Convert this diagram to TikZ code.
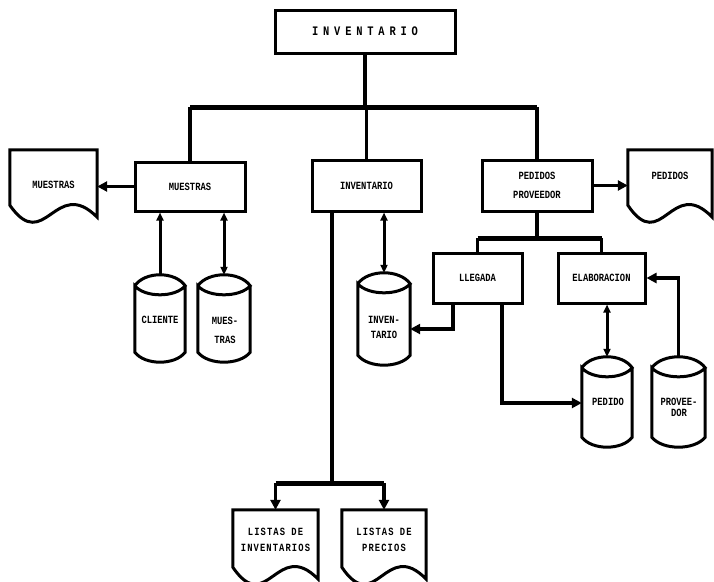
\documentclass[tikz,border=0pt]{standalone}
\usepackage{fontspec}
\newfontfamily\dotfont[FakeStretch=0.8]{Liberation Mono}
\usetikzlibrary{arrows.meta,calc}
\newcommand\drawcyl[1]{%
 \draw[bx] ($(#1.north west)+(0,11)$)
   .. controls ($(#1.north west)!0.2!(#1.north east)+(0,-3.7)$) and ($(#1.north west)!0.8!(#1.north east)+(0,-3.7)$) .. ($(#1.north east)+(0,11)$)
   .. controls ($(#1.north west)!0.8!(#1.north east)+(0,23)$) and ($(#1.north west)!0.2!(#1.north east)+(0,23)$) .. ($(#1.north west)+(0,11)$)
   -- ($(#1.south west)+(0,-10)$)
   .. controls ($(#1.south west)!0.2!(#1.south east)+(0,3.3)$) and ($(#1.south west)!0.8!(#1.south east)+(0,3.3)$) .. ($(#1.south east)+(0,-10)$)
   -- ($(#1.north east)+(0,11)$);}
\newcommand\drawdoc[1]{%
 \draw[bx] (#1.north west) -- (#1.north east) -- ($(#1.south east)+(0,-5)$)
  .. controls ($(#1.south west)!0.52!(#1.south east)+(0,-47)$) and ($(#1.south west)!0.4!(#1.south east)+(0,33)$) .. ($(#1.south west)+(0,-17)$) -- cycle;}
\begin{document}
\begin{tikzpicture}[x=1pt,y=-1pt,
  bx/.style={line width=3pt, line join=miter},
  boxnode/.style={draw, line width=3pt, inner sep=0pt, align=center,
     font=\dotfont\bfseries\fontsize{11}{19}\selectfont},
  shp/.style={inner sep=0pt},
  lbl/.style={inner sep=0pt, align=center, font=\dotfont\bfseries\fontsize{11}{15}\selectfont},
  conn/.style={line width=3.8pt},
  bar/.style={line width=5pt},
  arr/.style={line width=3.8pt, -{Triangle[length=10pt,width=10pt]}},
  uparr/.style={line width=3pt, {Triangle[length=8pt,width=7pt]}-},
  dblarr/.style={line width=3pt, {Triangle[length=8pt,width=7pt]}-{Triangle[length=8pt,width=7pt]}}]
\useasboundingbox (0,0) rectangle (714,581);
% boxes
\node[boxnode, minimum width=180pt, minimum height=43pt,
  font=\dotfont\bfseries\fontsize{13}{15}\selectfont\addfontfeatures{LetterSpace=37}] (top) at (365,31.5) {INVENTARIO};
\node[boxnode, minimum width=110pt, minimum height=49pt] (mbox) at (190,186.5) {MUESTRAS};
\node[boxnode, minimum width=109pt, minimum height=51pt] (ibox) at (366.5,185.5) {INVENTARIO};
\node[boxnode, minimum width=110pt, minimum height=51pt] (pbox) at (537,185.5) {PEDIDOS\\PROVEEDOR};
\node[boxnode, minimum width=89pt, minimum height=50pt] (lleg) at (477.5,278) {LLEGADA};
\node[boxnode, minimum width=87pt, minimum height=50pt] (elab) at (601.5,278) {ELABORACION};
% documents
\node[shp, minimum width=87pt, minimum height=72pt] (mdoc) at (53.5,186) {};
\node[shp, minimum width=84pt, minimum height=72pt] (pdoc) at (670,186) {};
\node[shp, minimum width=85pt, minimum height=74pt] (linv) at (275.5,547) {};
\node[shp, minimum width=84pt, minimum height=74pt] (lpre) at (384,547) {};
\drawdoc{mdoc}\drawdoc{pdoc}\drawdoc{linv}\drawdoc{lpre}
\node[lbl] (mdoct) at (53.5,185) {MUESTRAS};
\node[lbl] (pdoct) at (670,176) {PEDIDOS};
\node[lbl, font=\dotfont\bfseries\fontsize{11}{16}\selectfont\addfontfeatures{LetterSpace=10}] (linvt) at (275.5,540) {LISTAS DE\\INVENTARIOS};
\node[lbl, font=\dotfont\bfseries\fontsize{11}{16}\selectfont\addfontfeatures{LetterSpace=10}] (lpret) at (384,540) {LISTAS DE\\PRECIOS};
% cylinders
\node[shp, minimum width=50pt, minimum height=87pt] (cli) at (160,318.5) {};
\node[shp, minimum width=52pt, minimum height=87pt] (cmu) at (224,318.5) {};
\node[shp, minimum width=52pt, minimum height=92pt] (cinv) at (384,319) {};
\node[shp, minimum width=50pt, minimum height=90pt] (cped) at (607,402) {};
\node[shp, minimum width=53pt, minimum height=90pt] (cprov) at (678.5,402) {};
\drawcyl{cli}\drawcyl{cmu}\drawcyl{cinv}\drawcyl{cped}\drawcyl{cprov}
\node[lbl] (clit) at (160,320) {CLIENTE};
\node[lbl, font=\dotfont\bfseries\fontsize{11}{19}\selectfont] (cmut) at (225,330) {MUES-\\TRAS};
\node[lbl] (cinvt) at (384,327) {INVEN-\\TARIO};
\node[lbl] (cpedt) at (608,402) {PEDIDO};
\node[lbl, font=\dotfont\bfseries\fontsize{11}{11}\selectfont] (cprovt) at (679,407) {PROVEE-\\DOR};
% coordinates
\coordinate (b1) at (188,107);
\coordinate (b2) at (537,238);
\coordinate (lj) at (332,483);
\coordinate (k1) at (453,329);
\coordinate (k2) at (502,403);
% top tree
\draw[conn] (top.south) -- (top.south |- b1);
\draw[bar] (mbox.north |- b1) -- (pbox.north |- b1);
\draw[conn] (mbox.north |- b1) -- (mbox.north);
\draw[conn] (ibox.north |- b1) -- (ibox.north);
\draw[conn] (pbox.north |- b1) -- (pbox.north);
% outputs
\draw[arr] (mbox.west) -- (mbox.west -| mdoc.east);
\draw[arr] (pbox.east) -- (pbox.east -| pdoc.west);
% db links
\draw[uparr] (cli.north |- mbox.south) -- (cli.north);
\draw[dblarr] (cmu.north |- mbox.south) -- (cmu.north);
\draw[dblarr] (cinv.north |- ibox.south) -- (cinv.north);
\draw[dblarr] (cped.north |- elab.south) -- (cped.north);
% lists
\draw[conn] (ibox.south -| lj) -- (lj);
\draw[bar] (linv.north |- lj) -- (lpre.north |- lj);
\draw[arr] (linv.north |- lj) -- (linv.north);
\draw[arr] (lpre.north |- lj) -- (lpre.north);
% pedidos subtree
\draw[conn] (pbox.south) -- (b2);
\draw[bar] (lleg.north |- b2) -- (elab.north |- b2);
\draw[conn] (lleg.north |- b2) -- (lleg.north);
\draw[conn] (elab.north |- b2) -- (elab.north);
\draw[arr] (lleg.south -| k1) -- (k1) -- (k1 -| cinv.east);
\draw[arr] (lleg.south -| k2) -- (k2) -- (k2 -| cped.west);
\draw[arr] (cprov.north) -- (cprov.north |- elab.east) -- (elab.east);
\end{tikzpicture}
\end{document}
